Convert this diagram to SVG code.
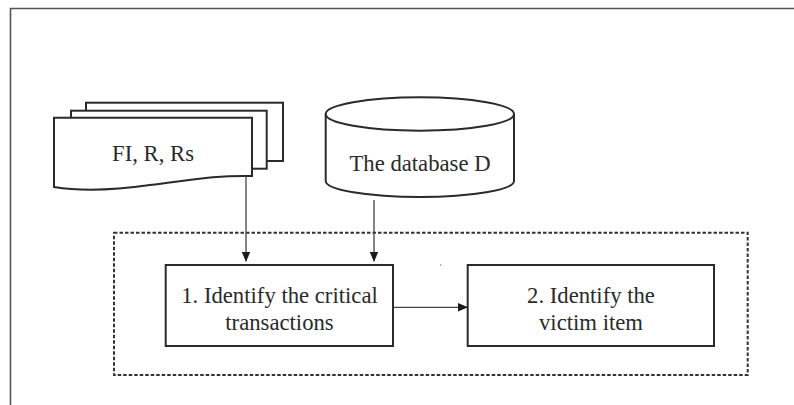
<svg xmlns="http://www.w3.org/2000/svg" width="794" height="405" viewBox="0 0 794 405">
<style>
.s{fill:#fff;stroke:#2a2a2a;stroke-width:2}
.t{font-family:"Liberation Serif","Times New Roman",serif;font-size:22.7px;fill:#2a2a2a;text-anchor:middle}
.c{fill:none;stroke:#444;stroke-width:1.3}
</style>
<defs>
<marker id="ah" markerWidth="10" markerHeight="10" refX="9" refY="5" orient="auto" markerUnits="userSpaceOnUse">
<path d="M0,0.8 L10,5 L0,9.2 Z" fill="#1a1a1a"/>
</marker>
</defs>
<rect width="794" height="405" fill="#fff"/>
<path d="M10.5,405 V8.5 H794" fill="none" stroke="#555" stroke-width="1.6"/>
<rect x="114" y="232.7" width="633.7" height="142.3" fill="none" stroke="#333" stroke-width="2" stroke-dasharray="3.5,2"/>
<g id="docs">
<rect class="s" x="86" y="102.7" width="197" height="58.3"/>
<rect class="s" x="71" y="110.7" width="195.7" height="58"/>
<path class="s" d="M54,117.7 H252 V176 C215,175 185,181 150,185 C115,190 85,192 54,187 Z"/>
<text class="t" x="153" y="161">FI, R, Rs</text>
</g>
<g id="database">
<path class="s" d="M325.7,114 V181 A94.15,16 0 0 0 514,181 V114"/>
<ellipse class="s" cx="419.85" cy="114" rx="94.15" ry="16.7"/>
<text class="t" x="420" y="171">The database D</text>
</g>
<g id="step1">
<rect class="s" x="165.7" y="265" width="227.3" height="81"/>
<text class="t" x="279.5" y="303">1. Identify the critical</text>
<text class="t" x="279.5" y="330">transactions</text>
</g>
<g id="step2">
<rect class="s" x="467.7" y="265" width="246.3" height="81"/>
<text class="t" x="591" y="303">2. Identify the</text>
<text class="t" x="591" y="330">victim item</text>
</g>
<g id="connectors">
<line class="c" x1="246" y1="176" x2="246" y2="261" marker-end="url(#ah)"/>
<line class="c" x1="374" y1="200" x2="374" y2="261" marker-end="url(#ah)"/>
<line class="c" x1="393" y1="307.3" x2="467" y2="307.3" marker-end="url(#ah)"/>
</g>
<circle cx="440.7" cy="265" r="0.8" fill="#888"/>
</svg>
